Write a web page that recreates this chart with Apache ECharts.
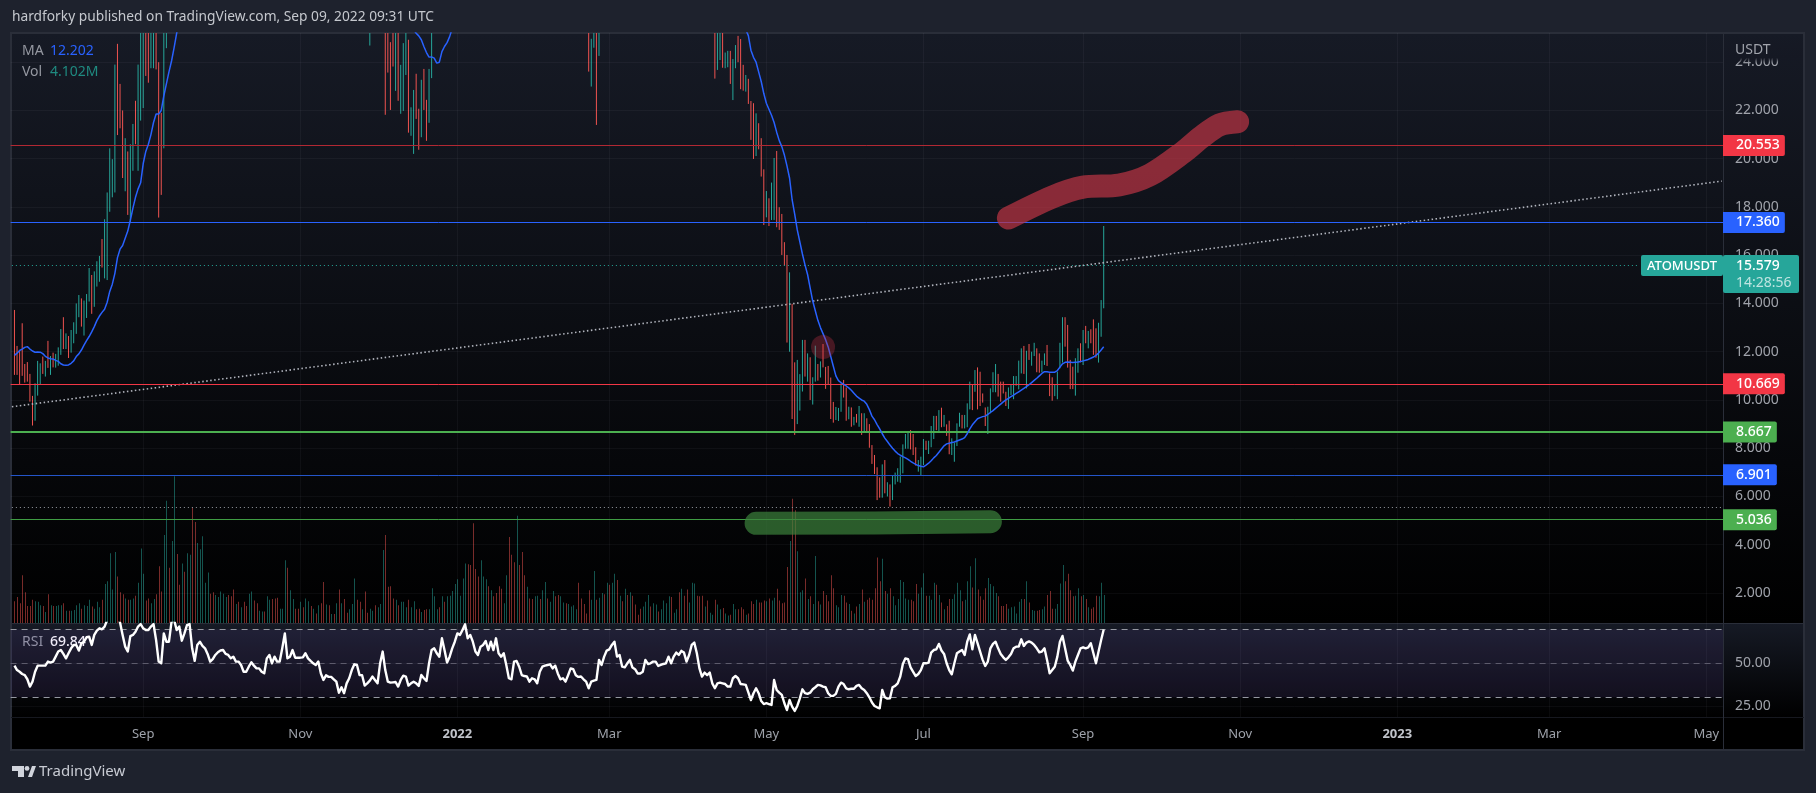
<!DOCTYPE html>
<html><head><meta charset="utf-8">
<style>html,body{margin:0;padding:0;background:#1e222d;overflow:hidden}#c{width:1816px;height:793px}</style>
<script src="https://cdn.jsdelivr.net/npm/echarts@6/dist/echarts.min.js"></script>
</head><body><div id="c"></div><script>
const FIRST_DAY=Date.UTC(2021,6,12), DAY_COUNT=665;
const tickDates=['2021-09-01','2021-11-01','2022-01-01','2022-03-01','2022-05-01','2022-07-01','2022-09-01','2022-11-01','2023-01-01','2023-03-01','2023-05-01'];
const tickLabels=['Sep','Nov','2022','Mar','May','Jul','Sep','Nov','2023','Mar','May'];
const priceTicks=[2,4,6,8,10,12,14,16,18,20,22,24];
const rsiTicks=[25,50];
const levelValues=[20.553,17.36,10.669,8.667,6.901,5.036];
const levelTagColors=['#f23645','#2962ff','#f23645','#4caf50','#2962ff','#4caf50'];
const levelLineColors=['#b22833','#2962ff','#f23645','#4caf50','#2455c9','#3f9c43'];
const levelWidths=[1,1,1,2,1,1];
const lastClose=15.579, lowLevel=5.55;
const highs=[
13.73,12.24,12.07,13.18,11.49,11.57,11.08,10.17,10.69,11.62,
11.52,11.8,11.62,12.45,11.82,11.96,11.91,12.18,12.94,13.43,
12.76,12.65,12.9,13.22,14.0,14.35,14.21,14.12,14.39,15.47,
15.18,15.33,15.75,15.97,16.67,17.49,18.6,20.43,19.98,23.9,
24.76,23.1,22.0,20.85,20.3,20.6,21.44,22.4,23.9,27,
29,27.5,27,28,28.5,27.5,24,21.9,27,29,
30.5,32,33.5,35,34,33.5,35,38,40,39,
37,38,41,42,44,44.5,43,41,42,43,
44,43.5,44,43,41,39,38,39,39,38,
37,38,38,37,36,35,36,37,38,38.5,
38,37,36,36,36.5,40,39,38,37,37,
36,36,35.5,35,34,33.5,33,32,31,30.5,
30,30,29.5,29.5,29,29,29,28.5,28,28.5,
29,29.5,30,30,29.5,29,28.5,28,27,27.5,
28,28.5,29,29,27.5,27,24.83,26,27,26,
23.89,24.79,26,24.93,22.13,22.85,23.52,22.07,23.27,23.72,
22.44,23.72,26,27,28,29,30,30.5,31,31,
32,32,33,33,34,35,35,34,36,34,
33,34,35,35.5,35,36,34.5,36,34.5,33,
33,33,34,32,30,32,31,30,29.5,29,
29,29,30,30,31,31.5,31.5,31,32,31,
31,30.5,30,30,29.5,30,31,30,29.5,29,
28.5,28,27.5,27,24.97,27,27,27,28,29,
31,32,33,34,33,33,32,32,33,33,
32,32,32,31.5,31,31,31,31,30.5,30.5,
30.5,30.5,30.5,31,30.5,31,31.5,32,33,34,
34,34,35,38,42,41,38,33,31,31,
30,29,27,27.5,27,27,24.4,24.47,24.47,24.13,
24.71,25.09,24.96,23.89,23.47,23.31,22.39,22.3,21.88,21.47,
20.85,19.56,18.66,18.36,19.01,20.03,20.32,17.99,17.71,16.54,
16.01,15.29,13.98,11.56,11.66,11.07,12.49,12.49,11.93,11.77,
10.94,12.25,11.49,11.6,12.32,11.37,11.41,10.93,9.92,9.71,
9.67,10.69,10.83,10.52,9.72,9.69,9.3,9.42,9.75,9.45,
9.45,9.24,9.0,8.13,7.72,7.21,6.79,7.33,7.51,6.59,
6.5,6.86,6.99,7.17,7.65,8.16,8.59,8.69,8.75,8.59,
8.04,7.51,7.65,8.38,8.31,8.31,8.92,9.34,9.34,9.58,
9.68,9.38,8.99,9.14,8.41,8.23,9.03,9.47,9.38,9.38,
9.86,10.76,10.62,11.24,11.35,11.17,10.27,9.69,9.72,10.48,
11.15,11.49,11.08,10.76,10.76,10.34,10.52,10.62,10.99,10.99,
11.63,12.14,12.24,12.04,12.32,12.0,12.37,12.14,11.93,11.63,
11.93,12.28,11.1,10.94,10.62,11.17,12.37,13.43,13.43,13.11,
11.66,11.38,11.73,12.14,12.35,12.9,13.07,12.86,12.93,13.34,
12.97,13.2,14.14,17.21];
const lows=[
11.04,11.04,10.66,11.0,10.72,10.76,9.93,8.94,9.14,10.18,
10.66,11.08,10.97,11.33,11.04,11.35,11.34,11.42,11.87,12.11,
12.11,11.74,11.96,12.35,12.74,13.43,13.04,12.67,13.4,14.08,
13.57,13.86,14.7,14.9,15.49,15.04,14.97,17.8,18.4,18.6,
20.98,21.26,19.2,18.65,17.67,17.35,19.5,20.6,19.5,21.58,
22.1,23.43,23.15,23.75,23.75,23.7,17.56,18.5,20.43,24.58,
27,27.5,29,30,29.5,29,30.5,33,34.5,33,
32,32.5,36,37,39,39.5,38,37,38,38.5,
39,39,39.5,38,36.5,35,34,35,35.5,34,
33.5,34,34,33.5,32.5,32,33,33,34,34.5,
34,33,32,32,32.5,34,34,33.5,33,33,
32,32.5,32,31,30.5,30,29.5,29,28.5,28,
27,27.5,27,27,27,26.5,26,26,25.9,26,
26.5,27,27.5,27.5,27,26.5,26,25.6,24.69,25.5,
25.8,26,26.5,25.6,21.82,23.57,22.02,23.82,22.81,22.4,
21.86,21.98,23.47,21.08,20.95,20.2,21.65,20.37,20.89,22.02,
20.74,21.49,23.34,25.6,25.8,26,26.5,27,27.5,27.5,
28,28.5,29,29.5,30,31,31,30,31,30,
29.5,30.5,31,32,31.5,32,31,32,30.5,29.5,
30,29.5,30,28,26.5,27.5,27.5,27,26.5,26,
26,26,26.5,26.5,27,27.5,28,28,28,27.5,
27.5,27,26.5,27,26.5,27,27,27,26,26,
25.8,25.7,25.6,23.61,22.99,24.6,21.4,24.26,25.6,26,
27,28,29,30,29.5,29,28,28,29,28.5,
28,28.5,28.5,28,28,28,28,27.5,27.5,27.5,
27.5,27.5,28,28,27.5,28,28.5,29,30,30.5,
31,30.5,32,34,36,34,30,28,27.5,27,
26,25.6,23.32,23.68,24.09,23.77,23.75,23.79,23.1,22.43,
23.75,24.0,22.88,22.82,22.78,22.27,20.78,19.99,20.11,20.39,
19.26,17.25,17.57,17.21,17.46,17.46,17.16,17.05,16.01,15.57,
12.38,12.0,9.21,8.55,9.0,9.56,10.35,10.97,10.76,10.0,
9.81,10.76,10.8,10.93,11.35,10.46,10.66,9.21,9.06,9.17,
9.13,9.51,10.1,9.14,9.2,8.89,8.95,9.06,8.89,8.55,
8.69,8.69,8.02,7.35,6.93,5.85,5.95,5.95,6.13,6.0,
5.58,5.85,6.5,6.61,6.57,6.96,7.98,7.98,7.95,7.72,
7.28,7.03,6.89,7.3,7.93,7.76,8.04,8.38,8.75,8.69,
8.87,8.89,8.51,7.75,7.72,7.44,8.09,8.89,8.82,8.82,
8.87,9.61,9.58,10.34,9.61,9.75,9.89,8.92,8.59,9.45,
10.32,10.32,10.14,9.93,10.27,9.75,9.63,10.2,10.03,10.59,
10.44,11.1,11.08,10.48,11.66,11.42,11.82,11.15,11.13,11.15,
11.45,11.41,10.16,9.97,10.16,10.03,11.31,11.55,12.21,11.34,
10.45,10.45,10.18,11.13,11.56,11.45,12.35,12.14,12.35,11.87,
11.75,11.55,12.62,13.8];
const ups=[
0,0,0,0,0,0,0,0,1,1,
1,0,1,0,1,0,1,1,1,0,
1,0,1,1,1,1,0,1,1,1,
0,1,1,1,0,1,1,1,1,1,
0,0,0,1,0,1,1,0,1,1,
1,0,0,1,1,0,0,0,1,1,
0,1,1,0,0,1,0,1,1,0,
0,1,1,1,1,1,0,0,1,1,
1,1,1,0,0,0,1,0,1,0,
0,1,1,0,0,1,1,0,1,1,
0,0,0,1,1,1,0,1,1,0,
0,1,0,1,1,0,1,0,1,0,
0,1,0,1,0,1,0,1,0,0,
1,1,1,0,0,1,0,0,1,1,
0,1,1,1,0,0,0,0,1,0,
1,1,1,0,1,1,0,0,1,0,
0,1,1,1,1,0,1,0,1,1,
1,1,1,1,1,1,0,0,0,0,
0,1,1,1,0,1,0,0,0,0,
1,1,0,0,0,1,0,0,0,1,
0,0,1,1,0,1,1,0,1,1,
0,0,1,1,0,1,1,1,1,0,
0,0,0,0,1,1,0,1,1,0,
1,0,1,1,0,1,0,1,0,1,
0,0,0,0,1,1,1,0,1,1,
0,1,1,1,1,0,1,1,0,1,
0,0,1,1,1,0,0,0,1,0,
1,1,0,1,1,0,1,1,0,1,
1,0,0,0,1,0,0,0,1,0,
0,0,1,0,1,1,0,0,0,0,
0,1,0,0,1,1,1,0,1,0,
1,1,0,1,0,0,0,0,0,1,
1,1,0,0,1,0,1,0,1,0,
1,0,0,0,0,0,0,1,0,1,
0,1,1,1,1,1,1,1,0,0,
0,1,1,1,0,1,1,1,0,1,
0,1,0,0,1,1,1,1,0,1,
1,1,0,1,0,0,0,0,1,1,
1,1,0,0,0,0,1,1,1,1,
1,1,0,1,0,1,1,0,0,1,
1,0,0,0,1,1,1,1,0,0,
0,0,1,1,0,1,0,1,0,0,
0,1,1,1];
const volumes=[
3.2,3.8,2.9,7.0,4.5,2.5,2.5,3.4,3.2,3.1,
2.6,2.5,1.6,4.2,2.6,2.5,2.5,2.6,2.6,2.9,
1.8,1.8,1.8,1.9,2.6,2.9,2.1,2.6,2.5,3.4,
2.4,2.1,3.1,2.3,3.4,5.7,6.1,10.2,4.9,10.4,
6.8,4.5,4.2,3.6,3.4,3.4,3.6,4.0,5.9,10.9,
7.2,3.3,3.6,2.9,3.5,4.2,8.3,4.6,12.9,17.9,
8.1,12.0,21.5,10.1,5.6,8.7,7.5,10.2,10.0,16.9,
14.8,11.7,10.8,12.7,5.9,7.4,4.3,4.5,4.1,3.8,
4.6,4.3,3.8,4.1,3.9,4.9,2.8,3.1,2.3,3.1,
2.5,4.3,4.6,3.3,2.9,1.8,1.7,1.7,3.9,3.4,
3.5,3.6,3.7,2.1,2.1,9.2,8.1,4.8,3.5,2.1,
2.1,3.1,2.3,3.6,3.2,2.5,2.1,1.4,2.6,2.9,
6.0,2.7,2.6,1.3,1.3,2.9,4.9,2.9,3.5,1.5,
2.0,2.8,6.5,3.4,3.1,2.0,4.6,1.5,2.1,1.8,
2.6,2.3,2.8,10.7,12.9,5.3,5.4,3.6,3.4,2.6,
3.1,3.1,2.3,3.4,2.3,3.2,2.0,2.1,1.6,1.9,
2.0,2.0,5.1,3.9,2.0,2.3,3.9,3.1,3.9,4.0,
4.7,5.7,6.4,4.0,6.5,8.7,8.6,8.5,14.6,7.9,
6.8,9.2,6.8,6.4,5.4,4.8,3.9,4.4,5.4,5.0,
2.9,7.0,12.6,10.0,8.9,15.7,8.5,10.4,7.0,5.3,
3.6,3.5,3.9,4.0,3.5,4.8,6.0,3.6,3.1,4.7,
3.9,4.1,3.9,3.0,2.9,2.8,2.4,2.6,2.0,5.9,
3.6,2.8,1.4,4.8,3.4,7.6,3.4,3.7,4.4,4.2,
5.9,5.6,5.9,7.2,6.3,4.0,3.2,5.0,4.1,4.5,
4.0,2.7,1.2,2.1,2.4,3.1,4.1,2.4,2.9,2.7,
1.7,2.0,3.3,2.9,3.9,3.8,1.5,2.0,4.5,5.0,
4.0,4.9,3.0,5.9,5.8,4.0,3.9,4.0,2.4,3.3,
1.5,1.2,3.4,2.7,2.0,2.2,1.4,1.1,1.2,2.8,
2.0,2.0,2.3,2.0,1.2,1.4,3.2,2.8,3.4,3.0,
3.0,3.3,3.2,3.6,3.3,3.7,5.0,3.3,2.9,3.0,
8.2,12.0,18.2,16.5,10.5,4.5,4.8,6.5,3.5,3.9,
2.8,9.8,3.2,2.7,4.7,4.1,3.2,7.0,5.1,2.6,
2.3,4.1,4.0,3.0,2.8,1.8,1.4,2.4,2.8,4.9,
3.1,3.4,3.7,3.4,5.1,9.6,6.1,9.4,4.7,4.3,
5.1,3.9,2.6,3.5,6.3,6.0,3.6,3.4,3.4,3.2,
5.7,4.3,5.2,7.3,4.0,4.0,3.4,5.9,5.6,4.1,
3.0,2.0,2.5,3.5,3.5,4.2,5.9,4.8,3.2,3.4,
6.1,8.3,5.2,9.5,4.9,3.9,3.4,5.1,6.6,5.7,
5.4,4.4,3.9,2.5,2.5,2.8,2.1,2.3,2.4,1.4,
3.1,3.5,3.5,6.1,3.0,1.9,1.8,1.8,1.9,2.0,
2.4,4.1,4.7,2.1,2.1,2.8,5.8,8.5,6.1,7.2,
4.8,3.9,4.0,5.1,3.9,4.1,3.5,2.3,2.1,2.3,
4.0,3.9,5.9,4.102];
const maValues=[
11.85,11.94,12.05,12.11,12.18,12.21,12.11,12.03,11.98,11.99,
11.98,11.92,11.81,11.74,11.71,11.7,11.64,11.6,11.5,11.45,
11.44,11.45,11.52,11.62,11.8,11.91,12.07,12.27,12.46,12.63,
12.82,13.04,13.29,13.48,13.63,13.76,14.05,14.5,14.8,15.25,
15.9,16.25,16.4,16.7,17.0,17.45,17.95,18.4,18.75,19.0,
19.8,20.3,20.6,21.0,21.5,21.85,21.85,22.0,22.6,23.1,
23.6,24.05,24.6,25.2,25.8,26.4,27,27.6,28.2,28.8,
29.4,30,30.6,31.2,31.8,32.4,33,33.5,34,34.4,
34.8,35.2,35.6,35.9,36.1,36.3,36.4,36.5,36.6,36.6,
36.6,36.5,36.4,36.3,36.2,36.1,36,35.9,35.8,35.7,
35.6,35.5,35.4,35.3,35.2,35.1,35,34.9,34.8,34.7,
34.6,34.5,34.4,34.3,34.1,33.9,33.7,33.5,33.3,33.1,
32.9,32.7,32.4,32.1,31.8,31.5,31.2,30.9,30.6,30.3,
30,29.8,29.6,29.4,29.2,29,28.8,28.6,28.4,28.2,
28,27.8,27.6,27.4,27.2,27,26.8,26.6,26.4,26.2,
26,25.9,25.8,25.6,25.5,25.35,25.2,25.09,24.93,24.65,
24.4,24.21,24.22,24.17,23.96,24.0,24.44,24.65,24.81,25.06,
25.4,25.8,26.2,26.7,27.2,27.7,28.2,28.7,29.2,29.7,
30.2,30.6,31,31.3,31.6,31.9,32.1,32.3,32.4,32.5,
32.5,32.5,32.4,32.3,32.1,31.9,31.7,31.5,31.3,31.1,
30.9,30.7,30.5,30.3,30.2,30.1,30,29.9,29.8,29.7,
29.6,29.5,29.4,29.3,29.2,29.1,29,28.9,28.8,28.7,
28.6,28.5,28.4,28.3,28.2,28.1,28,28,28,28.1,
28.2,28.3,28.5,28.7,28.9,29.1,29.3,29.4,29.5,29.6,
29.7,29.8,29.8,29.9,29.9,30,30,30,30.1,30.1,
30.1,30.2,30.2,30.3,30.3,30.4,30.5,30.6,30.7,30.8,
31,31.1,31.3,31.5,31.8,32,32.1,32.2,32.2,32.1,
32,31.7,31.3,30.9,30.4,29.8,29.2,28.6,28,27.4,
26.9,26.4,26.0,25.7,25.35,25.1,24.5,24.2,24.0,23.6,
23.2,22.7,22.3,22.05,21.8,21.5,21.1,20.75,20.5,20.15,
19.7,19.2,18.3,17.7,17.05,16.55,16.05,15.6,15.2,14.65,
14.1,13.7,13.3,13.0,12.75,12.5,12.2,11.8,11.4,11.0,
10.8,10.72,10.65,10.58,10.5,10.4,10.28,10.16,10.08,10.0,
9.95,9.82,9.6,9.33,9.18,8.98,8.8,8.6,8.42,8.28,
8.13,8.0,7.88,7.78,7.71,7.65,7.6,7.54,7.46,7.39,
7.33,7.28,7.25,7.23,7.3,7.38,7.48,7.6,7.7,7.83,
7.97,8.1,8.18,8.21,8.24,8.26,8.3,8.34,8.38,8.44,
8.6,8.8,8.97,9.1,9.22,9.27,9.31,9.33,9.4,9.48,
9.56,9.65,9.74,9.83,9.92,10.0,10.07,10.14,10.2,10.27,
10.34,10.41,10.48,10.55,10.63,10.72,10.81,10.9,11.0,11.1,
11.17,11.17,11.15,11.15,11.15,11.22,11.36,11.5,11.56,11.57,
11.56,11.55,11.56,11.57,11.59,11.62,11.65,11.68,11.73,11.78,
11.85,11.95,12.07,12.202];
const rsiValues=[
48.6,46,45,43.7,43,40.6,36.3,39.2,45,48.6,
48.6,48.6,48.6,51,50.4,51,53.9,56.9,57.8,55.5,
52.9,55.9,58.8,60.8,60.8,57.5,61.8,62.7,65.3,65.7,
60.8,66.7,69.2,70.6,70,71.6,75.5,77,79,79,
77,74,66.7,59.8,56.9,66,66.7,68.6,71.6,73.1,
70.6,69.6,69.6,71.6,73.1,63.7,51,50,67.6,62.7,
62.7,74.5,75.5,69.6,71.6,63.3,67.6,72.5,73.1,58.8,
51.4,60.8,62.7,60.2,58.8,55.5,51,52.4,54.9,56.5,
57.5,57.8,55.5,54.9,52.9,53.9,51,51,49,45,
45,48,50.6,48.6,47,47,45,44.1,52.9,54.9,
50,53.9,51,51,58.8,67.6,52.9,53.9,57.8,53.3,
53.3,53.3,53.5,55.9,52.9,51.4,50,49,51,44,
40.2,42.9,42,42,40.6,39.2,32.7,35.9,32.4,38.2,
41.2,46,49.4,49,43.1,43,36.9,38.2,39.8,42.2,
40.2,38.2,50,56.9,46,39.2,38.6,38.8,39,36.3,
40.2,42.7,42.2,36.9,38.2,39.2,38.2,36.7,43.1,41.2,
39.6,50,57.8,58.8,55.9,53.9,64.7,57.8,50.4,53.9,
58.8,62.7,67.6,66.7,69.6,72.9,64.7,66.7,62.7,56.9,
54.9,59.8,60.8,63.1,57.8,62.7,57.8,64.7,55.9,53.9,
55.9,49,41.2,40.6,51,51.4,48,43.1,42.5,42.2,
39.2,41.2,40.6,38.2,45,48,48.6,49,49.4,47,
48.6,44,40.6,41.2,39.2,43,47,46.5,43,42,
42.2,40.6,39.2,35.3,39.2,39.8,40.2,52,49,53.9,
57.5,58.2,60.8,62.7,53.9,54.9,48,47.6,50,52,
47.5,46.5,44,44,45,52,49.6,50,51,51,
48.4,49,49.6,50,53.9,50,53.9,56.3,54.9,57.3,
56.3,51,54.9,60.8,62.2,55.9,47,42.2,44.5,43.1,
44.5,38.2,35.3,38.2,38.6,38.2,37.8,36.3,36.3,41.2,
42.5,41.2,37.8,37.6,37.3,32.9,28.4,32.4,35.3,32.4,
27.8,26,26.5,26,25.5,40.2,34.3,32.7,31.4,26.5,
22.5,28.4,24.5,22,24.9,29.4,34.7,32.4,32,32.7,
34.7,35.9,37.3,37,36.3,35.9,32.4,30.8,30.8,32,
36.3,38.6,37.8,35.3,34.7,35,35,36.7,37.3,35.3,
34.3,32.4,30,26.9,24.9,24.1,23.5,34.3,30,29.2,
29.4,35.9,36.7,38.2,42.2,49.6,52.9,52.4,47.6,45,
42.5,43.7,46,50,50,50.4,56.3,57.8,58.2,61.4,
57.5,55.5,50,46,43.5,50,55.9,56.9,57.8,54.9,
62.7,67,58.2,66.7,61.8,56.9,52,48.4,51,58.8,
61.4,62.7,58.8,55.5,53.5,52,53.5,55.5,58.8,59.8,
59.8,64.1,60.2,62.2,62.9,62.2,60.8,58.8,56.5,56.9,
58.8,52,44.1,46,48,53.9,62.7,66.1,58.8,51.6,
49,45.7,51,54.9,58.8,59.4,58.8,59.4,61.8,55.9,
50,56.9,63.7,69.84];
const redStroke=[[387,17.54],[404,18.41],[416,18.82],[430,18.91],[442,19.33],[455,20.28],[462,20.9],[469,21.4],[476,21.53]];
const greenStroke=[[289,4.89],[335,4.9],[380,4.955]];
const redDot=[[315,12.2]];
const trendLine=[[0,9.72],[664,19.07]];

for (const [n,a] of Object.entries({highs,lows,ups,volumes,maValues,rsiValues})) {
  if (a.length!==424) throw new Error('length '+n+' '+a.length);
}

const FONT='"Noto Sans", sans-serif';
const categories=[];
for(let d=0;d<DAY_COUNT;d++){categories.push(new Date(FIRST_DAY+d*86400000).toISOString().slice(0,10));}
const candleData=[['-','-','-','-']].concat(highs.map((h,i)=>{
  const l=lows[i];
  const last=i===highs.length-1;
  return ups[i]?[l,last?lastClose:h,l,h]:[h,l,l,h];
}));
const volData=volumes.map((v,i)=>[i+1,v,ups[i]]);
const maData=['-'].concat(maValues);
const rsiData=['-'].concat(rsiValues);

const gridLine={color:'rgba(240,243,250,0.045)',width:1,type:'solid'};
const vLines=tickDates.map(d=>({xAxis:d,lineStyle:gridLine}));
const hLines=priceTicks.map(v=>({yAxis:v,lineStyle:gridLine}));
const rsiLines=rsiTicks.map(v=>({yAxis:v,lineStyle:gridLine}));

const levelMarks=levelValues.map((v,i)=>({
  yAxis:v,
  lineStyle:{color:levelLineColors[i],width:levelWidths[i],type:'solid'},
  label:{show:true,position:'end',distance:0,formatter:v.toFixed(3),color:'#fff',
    fontFamily:FONT,fontSize:14,fontWeight:500,backgroundColor:levelTagColors[i],
    padding:[3,5,3,13],lineHeight:15,borderRadius:[0,2,2,0]}
}));
const dottedMarks=[
  [{coord:[categories[0],lastClose],lineStyle:{color:'#26a69a',width:1,type:[1,3]},label:{show:false}},{coord:[categories[632],lastClose]}],
  [{coord:[categories[0],lowLevel],lineStyle:{color:'#9598a1',width:1,type:[1,3]},label:{show:false}},{coord:[categories[664],lowLevel]}]
];

const paneFill=(top,bot)=>({type:'linear',x:0,y:0,x2:0,y2:1,colorStops:[{offset:0,color:top},{offset:1,color:bot}]});
const text=(x,y,t,fill,opts={})=>({type:'text',z:opts.z==null?1:opts.z,silent:true,
  style:{x,y,text:t,fill,font:`${opts.weight||'normal'} ${opts.size||14}px ${FONT}`,textVerticalAlign:'middle',verticalAlign:'middle'}});
const rect=(x,y,w,h,fill,z,r)=>({type:'rect',z,silent:true,shape:{x,y,width:w,height:h,r:r||0},style:{fill}});
const frame='#2a2e39';

const graphic=[
  rect(11,33,1793,590,paneFill('#161a25','#000000'),-5),
  rect(11,623,1793,94,paneFill('#161a25','#000000'),-5),
  rect(11,717,1793,33,'#000000',-5),
  rect(10,32,1795,2,frame,-4),
  rect(10,32,2,719,frame,-4),
  rect(1803,32,2,719,frame,-4),
  rect(10,749,1795,2,frame,-4),
  rect(11,623,1793,1,frame,-4),
  rect(11,717,1793,1,'#16181f',-4),
  rect(1723,33,1,717,frame,-4),
  text(22,51,'MA','#9598a1'),
  text(50,51,maValues[maValues.length-1].toFixed(3),'#2962ff'),
  text(22,72,'Vol','#9598a1'),
  text(50,72,(volumes[volumes.length-1]).toFixed(3)+'M','#1f8a80'),
  text(22,642,'RSI','#9598a1'),
  text(50,642,rsiValues[rsiValues.length-1].toFixed(2),'#ffffff',{weight:500}),
  {type:'rect',z:20,silent:true,shape:{x:1724,y:34,width:79,height:29},
    style:{fill:{type:'linear',x:0,y:0,x2:0,y2:1,colorStops:[{offset:0,color:'#161a25'},{offset:0.82,color:'#151823'},{offset:1,color:'rgba(21,24,35,0)'}]}}},
  text(1735,50,'USDT','#a0a3ab',{z:21}),
  rect(1641,255,82,21,'#26a69a',22,2),
  rect(1723,255,76,38,'#26a69a',22,2),
  text(1647,266,'ATOMUSDT','#ffffff',{z:23,weight:500,size:13}),
  text(1736,266,lastClose.toFixed(3),'#ffffff',{z:23,weight:500}),
  text(1736,283,'14:28:56','rgba(255,255,255,0.7)',{z:23}),
  {type:'polygon',z:1,silent:true,shape:{points:[[12,766],[24,766],[24,777],[18,777],[18,771],[12,771]]},style:{fill:'#d1d4dc'}},
  {type:'circle',z:1,silent:true,shape:{cx:27,cy:768.4,r:2.4},style:{fill:'#d1d4dc'}},
  {type:'polygon',z:1,silent:true,shape:{points:[[28,777],[32,766],[36,766],[32,777]]},style:{fill:'#d1d4dc'}},
  text(39,772,'TradingView','#c8cbd3',{size:15})
];

const helperLine={type:'line',showSymbol:false,lineStyle:{opacity:0},silent:true,animation:false};
const option={
  animation:false,
  backgroundColor:'#1e222d',
  textStyle:{fontFamily:FONT},
  title:{text:'hardforky published on TradingView.com, Sep 09, 2022 09:31 UTC',left:7,top:5,
    textStyle:{color:'#c5c8ce',fontSize:13.75,fontWeight:'normal',fontFamily:FONT}},
  graphic,
  grid:[
    {left:10.6,top:33,width:1712.4,height:590,containLabel:false},
    {left:10.6,top:623,width:1712.4,height:94,containLabel:false}
  ],
  xAxis:[
    {type:'category',gridIndex:0,data:categories,boundaryGap:true,axisLine:{show:false},axisTick:{show:false},axisLabel:{show:false},splitLine:{show:false}},
    {type:'category',gridIndex:1,data:categories,boundaryGap:true,axisLine:{show:false},axisTick:{show:false},splitLine:{show:false},
      axisLabel:{show:true,margin:11,color:'#9ea2aa',fontFamily:FONT,fontSize:13,
        interval:(idx,val)=>tickDates.includes(val),
        formatter:(val)=>{const t=tickLabels[tickDates.indexOf(val)];return /^\d+$/.test(t)?'{b|'+t+'}':t;},
        rich:{b:{color:'#c0c3ca',fontWeight:'bold',fontSize:13,fontFamily:FONT}}}}
  ],
  yAxis:[
    {type:'value',gridIndex:0,position:'right',min:0.756,max:25.21,splitLine:{show:false},axisLine:{show:false},axisTick:{show:false},
      axisLabel:{show:true,customValues:priceTicks,margin:12,color:'#a0a3ab',fontFamily:FONT,fontSize:14,formatter:v=>v.toFixed(3)}},
    {type:'value',gridIndex:0,position:'left',min:0,max:86.4,show:false,splitLine:{show:false}},
    {type:'value',gridIndex:1,position:'right',min:18.4,max:73.7,splitLine:{show:false},axisLine:{show:false},axisTick:{show:false},
      axisLabel:{show:true,customValues:rsiTicks,margin:12,color:'#a0a3ab',fontFamily:FONT,fontSize:14,formatter:v=>v.toFixed(2)}}
  ],
  series:[
    Object.assign({},helperLine,{name:'grid',xAxisIndex:0,yAxisIndex:0,z:1,data:[[0,priceTicks[0]]],
      markLine:{silent:true,symbol:'none',animation:false,label:{show:false},data:vLines.concat(hLines)}}),
    {name:'Vol',type:'custom',xAxisIndex:0,yAxisIndex:1,z:2,data:volData,silent:true,animation:false,clip:true,
      encode:{x:0,y:1},
      renderItem:(params,api)=>{
        const top=api.coord([api.value(0),api.value(1)]);
        const base=api.coord([api.value(0),0]);
        return {type:'rect',shape:{x:Math.round(top[0]),y:top[1],width:1,height:base[1]-top[1]},
          style:{fill:api.value(2)?'rgba(38,166,154,0.5)':'rgba(239,83,80,0.5)'}};
      }},
    {name:'ATOMUSDT',type:'candlestick',xAxisIndex:0,yAxisIndex:0,z:3,barWidth:1,data:candleData,silent:true,animation:false,
      large:true,largeThreshold:1,clip:true,
      itemStyle:{color:'#26a69a',color0:'#ef5350',borderColor:'#26a69a',borderColor0:'#ef5350',borderWidth:1}},
    {name:'trend',type:'line',xAxisIndex:0,yAxisIndex:0,z:4,data:trendLine,showSymbol:false,symbol:'none',silent:true,animation:false,
      lineStyle:{color:'#b2b5be',width:1.6,type:[1.5,2.5]}},
    {name:'MA',type:'line',xAxisIndex:0,yAxisIndex:0,z:5,data:maData,showSymbol:false,symbol:'none',silent:true,animation:false,
      connectNulls:false,lineStyle:{color:'#2962ff',width:1.5},
      markLine:{silent:true,symbol:'none',animation:false,data:levelMarks.concat(dottedMarks)}},
    {name:'redStroke',type:'line',xAxisIndex:0,yAxisIndex:0,z:6,data:redStroke,smooth:0.3,showSymbol:false,symbol:'none',silent:true,animation:false,
      lineStyle:{color:'rgba(190,52,68,0.7)',width:23,cap:'round',join:'round'}},
    {name:'greenStroke',type:'line',xAxisIndex:0,yAxisIndex:0,z:6,data:greenStroke,showSymbol:false,symbol:'none',silent:true,animation:false,
      lineStyle:{color:'rgba(60,130,60,0.7)',width:23,cap:'round',join:'round'}},
    {name:'redDot',type:'scatter',xAxisIndex:0,yAxisIndex:0,z:6,data:redDot,symbolSize:24,silent:true,animation:false,
      itemStyle:{color:'rgba(200,50,70,0.4)'}},
    Object.assign({},helperLine,{name:'rsiGrid',xAxisIndex:1,yAxisIndex:2,z:1,data:[[0,rsiTicks[0]]],
      markLine:{silent:true,symbol:'none',animation:false,label:{show:false},data:vLines.concat(rsiLines)},
      markArea:{silent:true,animation:false,itemStyle:{color:'rgba(126,87,194,0.12)'},data:[[{yAxis:70},{yAxis:30}]]}}),
    {name:'RSI',type:'line',xAxisIndex:1,yAxisIndex:2,z:5,data:rsiData,showSymbol:false,symbol:'none',silent:true,animation:false,
      lineStyle:{color:'#ffffff',width:2.4,join:'round'},
      markLine:{silent:true,symbol:'none',animation:false,label:{show:false},data:[
        {yAxis:70,lineStyle:{color:'#9598a1',width:1,type:[6,5]}},
        {yAxis:50,lineStyle:{color:'#5d5b6c',width:1,type:[6,5]}},
        {yAxis:30,lineStyle:{color:'#9598a1',width:1,type:[6,5]}}]}}
  ]
};
const chart=echarts.init(document.getElementById('c'),null,{width:1816,height:793,renderer:'canvas'});
chart.setOption(option);
</script></body></html>
